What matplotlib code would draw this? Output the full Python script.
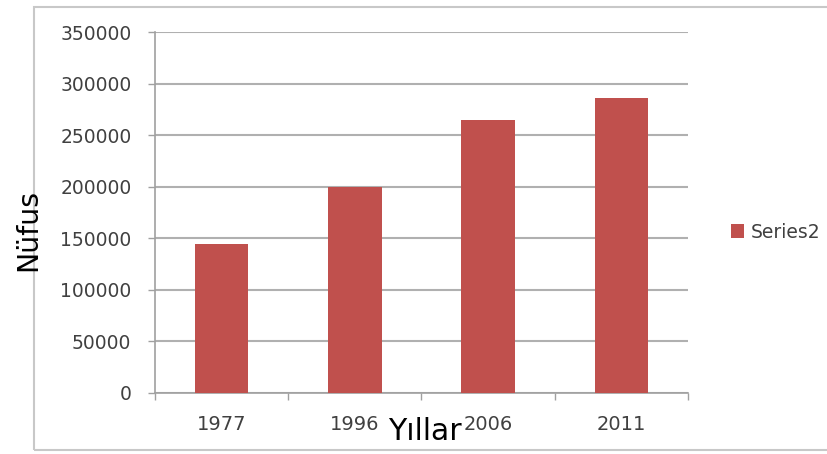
import matplotlib
matplotlib.use("Agg")
import matplotlib.pyplot as plt
from matplotlib.patches import Rectangle, Patch
import numpy as np

years = ["1977", "1996", "2006", "2011"]
population = [144000, 200000, 265000, 286000]
yticks = [0, 50000, 100000, 150000, 200000, 250000, 300000, 350000]
series_name = "Series2"

plt.rcParams['font.family'] = ['DejaVu Sans']

fig = plt.figure(figsize=(8.28, 4.54), dpi=100)
fig.patch.set_facecolor("white")

# outer chart frame
fig.patches.append(Rectangle((34/828, 1-450/454), 1.2, (450-7)/454,
                             transform=fig.transFigure, fill=False,
                             edgecolor="#c8c8c8", linewidth=1.5))

ax = fig.add_axes([155/828, 1-393/454, (688-155)/828, (393-32)/454])
x = np.arange(len(years))
ax.bar(x, population, width=0.4, color="#C0504D", zorder=3)

ax.set_xlim(-0.5, len(years) - 0.5)
ax.set_ylim(0, 350000)
ax.set_yticks(yticks)
ax.set_yticklabels([str(v) for v in yticks], fontsize=13.5, color="#404040")
ax.set_xticks(x)
ax.set_xticklabels(years, fontsize=14, color="#404040")
ax.tick_params(axis="x", length=0, pad=16)
ax.set_xticks(np.arange(-0.5, len(years), 1.0), minor=True)
ax.tick_params(axis="x", which="minor", length=5, color="#a0a0a0", width=1)
ax.tick_params(axis="y", length=5, color="#a0a0a0", width=1, pad=12)

ax.grid(axis="y", color="#b0b0b0", linewidth=1.5, zorder=0)
for s in ["top", "right"]:
    ax.spines[s].set_visible(False)
for s in ["left", "bottom"]:
    ax.spines[s].set_color("#a0a0a0")
    ax.spines[s].set_linewidth(1.2)

fig.text(36/828, 1-230/454, "Nüfus", rotation=90, fontsize=20.5,
         ha="center", va="baseline", rotation_mode="anchor", color="black")
fig.text(425/828, 1-440/454, "Yıllar", fontsize=21.5,
         ha="center", va="baseline", color="black")

handle = Patch(facecolor="#C0504D", edgecolor="none")
fig.legend([handle], [series_name], loc="center left",
           bbox_to_anchor=(714/828, 1-232/454), frameon=False,
           fontsize=13.5, handlelength=0.7, handleheight=0.7,
           handletextpad=0.35, labelcolor="#404040")

fig.savefig("out.png", dpi=100)
